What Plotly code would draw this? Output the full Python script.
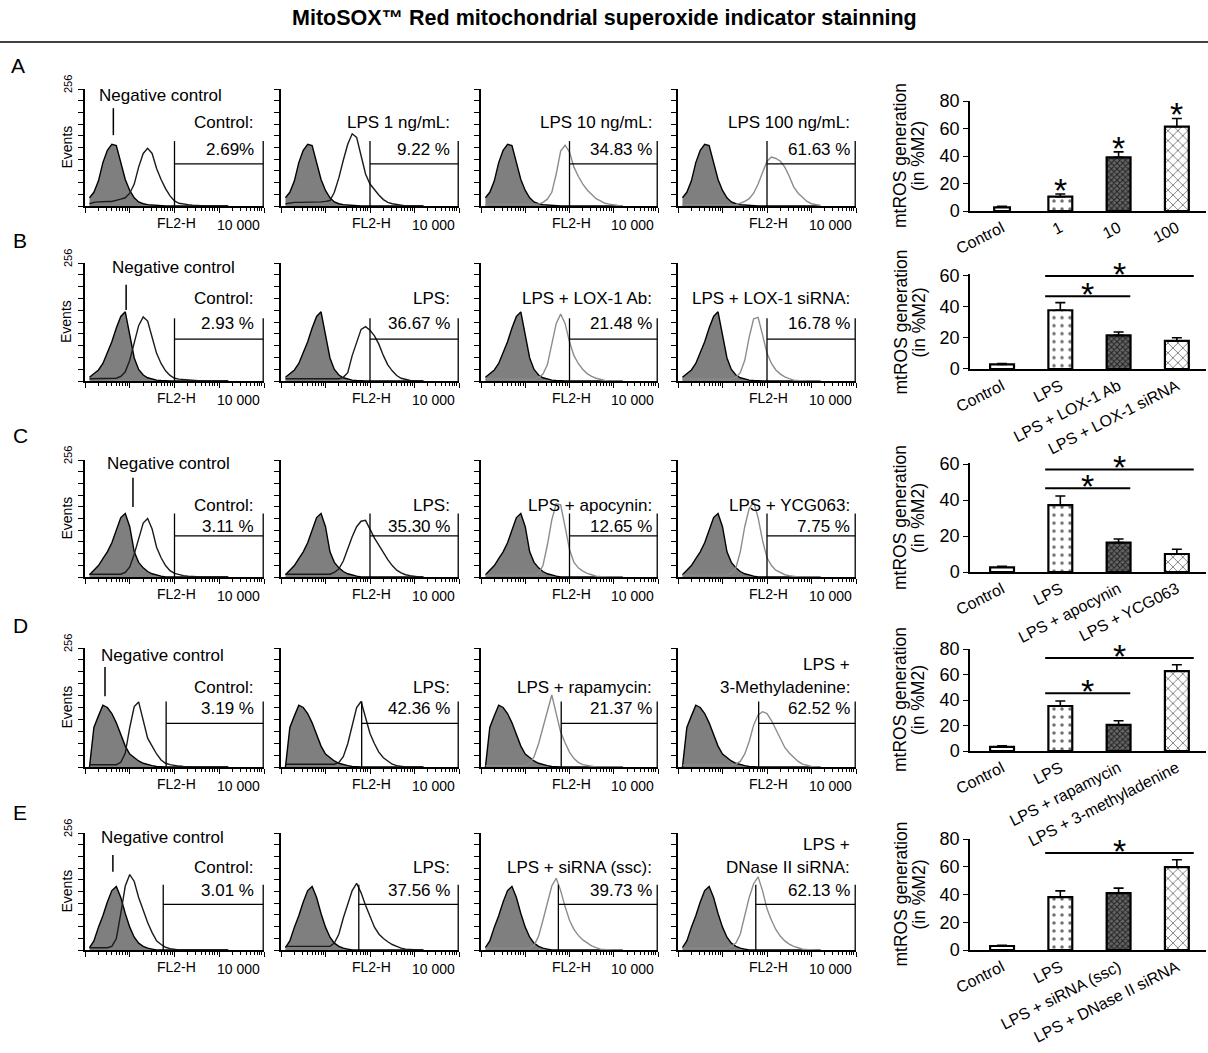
import plotly.graph_objects as go

W, H = 1208, 1053
FONT = "Liberation Sans, Arial, sans-serif"

# ---------------- DATA ----------------
TITLE = "MitoSOX™ Red mitochondrial superoxide indicator stainning"

# FL2-H channel values (log scale bins)
FL2_H = [1.26, 1.58, 2.0, 2.51, 3.16, 3.98, 5.01, 6.31, 7.94, 10, 12.6, 15.8, 20.0, 25.1,
         31.6, 39.8, 50.1, 63.1, 79.4, 100, 126, 158, 200, 251, 316, 398, 501, 631, 794,
         1000, 1259, 1585]

# Row A histograms (events)
NEG_A = [18, 30, 55, 95, 122, 135, 132, 95, 58, 34, 18, 9, 5, 3, 2, 1, 0, 0, 0, 0, 0, 0, 0, 0, 0, 0, 0, 0, 0, 0, 0, 0]
S_A1 = [5, 8, 9, 10, 10, 10, 12, 15, 18, 28, 48, 85, 115, 126, 115, 82, 58, 38, 22, 11, 6, 4, 3, 2, 1, 0, 0, 0, 0, 0, 0, 0]
S_A2 = [5, 7, 8, 8, 8, 8, 8, 8, 9, 10, 12, 30, 62, 100, 135, 158, 150, 110, 70, 48, 35, 24, 14, 8, 5, 3, 1, 0, 0, 0, 0, 0]
S_A3 = [3, 4, 4, 4, 4, 4, 4, 4, 4, 4, 4, 4, 4, 8, 15, 30, 70, 120, 133, 118, 85, 65, 48, 35, 25, 16, 11, 6, 4, 2, 1, 0]
S_A4 = [3, 3, 3, 3, 3, 3, 3, 3, 3, 3, 3, 3, 3, 6, 10, 16, 28, 48, 75, 98, 107, 104, 98, 85, 65, 42, 28, 18, 10, 5, 3, 1]

# Row B histograms
NEG_B = [8, 15, 24, 38, 60, 85, 115, 140, 150, 100, 50, 25, 13, 7, 4, 2, 1, 0, 0, 0, 0, 0, 0, 0, 0, 0, 0, 0, 0, 0, 0, 0]
S_B1 = [5, 5, 5, 5, 5, 5, 6, 10, 20, 45, 80, 120, 139, 130, 95, 60, 38, 22, 12, 6, 4, 3, 2, 1, 0, 0, 0, 0, 0, 0, 0, 0]
S_B2 = [5, 5, 5, 5, 5, 5, 5, 5, 5, 5, 5, 5, 5, 8, 18, 55, 85, 112, 118, 110, 98, 80, 55, 35, 22, 12, 6, 3, 1, 0, 0, 0]
S_B3 = [4, 4, 4, 4, 4, 4, 4, 4, 4, 4, 4, 4, 8, 15, 35, 80, 125, 145, 125, 85, 55, 38, 25, 16, 10, 6, 3, 1, 0, 0, 0, 0]
S_B4 = [4, 4, 4, 4, 4, 4, 4, 4, 4, 4, 4, 4, 8, 18, 45, 95, 135, 138, 100, 60, 38, 24, 15, 9, 5, 2, 1, 0, 0, 0, 0, 0]

# Row C histograms
NEG_C = [5, 15, 25, 40, 55, 75, 105, 130, 139, 110, 55, 32, 20, 12, 7, 4, 2, 0, 0, 0, 0, 0, 0, 0, 0, 0, 0, 0, 0, 0, 0, 0]
S_C1 = [6, 6, 6, 6, 6, 6, 6, 6, 10, 22, 50, 85, 118, 128, 105, 65, 42, 25, 14, 8, 5, 3, 2, 1, 0, 0, 0, 0, 0, 0, 0, 0]
S_C2 = [6, 6, 6, 6, 6, 6, 6, 6, 6, 6, 6, 10, 18, 35, 62, 88, 110, 122, 124, 105, 85, 70, 52, 38, 25, 15, 9, 5, 3, 1, 0, 0]
S_C3 = [4, 4, 4, 4, 4, 4, 4, 4, 4, 4, 4, 4, 8, 25, 70, 125, 160, 158, 110, 60, 32, 20, 13, 8, 5, 2, 1, 0, 0, 0, 0, 0]
S_C4 = [4, 4, 4, 4, 4, 4, 4, 4, 4, 4, 4, 8, 20, 55, 110, 150, 163, 130, 80, 42, 25, 15, 9, 5, 3, 1, 0, 0, 0, 0, 0, 0]

# Row D histograms
NEG_D = [0, 85, 110, 133, 128, 115, 95, 72, 45, 28, 20, 13, 8, 5, 3, 1, 0, 0, 0, 0, 0, 0, 0, 0, 0, 0, 0, 0, 0, 0, 0, 0]
S_D1 = [5, 5, 5, 5, 5, 5, 5, 10, 30, 85, 130, 140, 100, 62, 45, 28, 15, 8, 5, 3, 2, 1, 0, 0, 0, 0, 0, 0, 0, 0, 0, 0]
S_D2 = [6, 6, 6, 6, 6, 6, 6, 6, 6, 6, 6, 6, 10, 22, 50, 90, 128, 141, 105, 72, 50, 32, 20, 12, 6, 3, 1, 0, 0, 0, 0, 0]
S_D3 = [3, 3, 3, 3, 3, 3, 3, 3, 3, 3, 8, 22, 50, 85, 125, 155, 115, 75, 52, 32, 18, 10, 5, 3, 1, 0, 0, 0, 0, 0, 0, 0]
S_D4 = [4, 4, 4, 4, 4, 4, 4, 4, 4, 4, 4, 4, 6, 12, 28, 55, 90, 112, 119, 115, 100, 80, 60, 42, 30, 20, 12, 6, 3, 1, 0, 0]

# Row E histograms
NEG_E = [5, 20, 50, 75, 105, 130, 139, 115, 80, 50, 28, 15, 8, 4, 2, 0, 0, 0, 0, 0, 0, 0, 0, 0, 0, 0, 0, 0, 0, 0, 0, 0]
S_E1 = [5, 5, 5, 5, 5, 8, 25, 80, 140, 165, 150, 115, 85, 60, 38, 20, 12, 6, 3, 1, 0, 0, 0, 0, 0, 0, 0, 0, 0, 0, 0, 0]
S_E2 = [8, 8, 8, 8, 8, 8, 8, 8, 8, 8, 8, 15, 35, 70, 100, 130, 146, 125, 98, 72, 50, 35, 25, 18, 12, 8, 4, 2, 1, 0, 0, 0]
S_E3 = [4, 4, 4, 4, 4, 4, 4, 4, 4, 4, 4, 10, 30, 65, 105, 140, 157, 130, 95, 65, 45, 32, 22, 15, 9, 5, 2, 1, 0, 0, 0, 0]
S_E4 = [4, 4, 4, 4, 4, 4, 4, 4, 4, 4, 4, 8, 15, 35, 75, 115, 145, 160, 130, 90, 65, 45, 30, 20, 13, 8, 5, 2, 1, 0, 0, 0]

# M2 gate (FL2-H) per row, and upper bound
GATES = {"A": 100, "B": 100, "C": 100, "D": 65, "E": 56}
GATE_HI = 9600
# Negative-control peak marker (FL2-H)
NEG_MARK = {"A": 4.3, "B": 8.3, "C": 11.8, "D": 2.8, "E": 4.2}

HIST_LABELS_A = ["Control:", "LPS 1 ng/mL:", "LPS 10 ng/mL:", "LPS 100 ng/mL:"]
HIST_PCT_A = ["2.69%", "9.22 %", "34.83 %", "61.63 %"]
HIST_LABELS_B = ["Control:", "LPS:", "LPS + LOX-1 Ab:", "LPS + LOX-1 siRNA:"]
HIST_PCT_B = ["2.93 %", "36.67 %", "21.48 %", "16.78 %"]
HIST_LABELS_C = ["Control:", "LPS:", "LPS + apocynin:", "LPS + YCG063:"]
HIST_PCT_C = ["3.11 %", "35.30 %", "12.65 %", "7.75 %"]
HIST_LABELS_D = ["Control:", "LPS:", "LPS + rapamycin:", "LPS +\n3-Methyladenine:"]
HIST_PCT_D = ["3.19 %", "42.36 %", "21.37 %", "62.52 %"]
HIST_LABELS_E = ["Control:", "LPS:", "LPS + siRNA (ssc):", "LPS +\nDNase II siRNA:"]
HIST_PCT_E = ["3.01 %", "37.56 %", "39.73 %", "62.13 %"]

# Bar charts: mtROS generation (in %M2)
BAR_CATS_A = ["Control", "1", "10", "100"]
BAR_VALUES_A = [2.7, 10.4, 39, 61.3]
BAR_ERR_A = [0.8, 2, 4, 6]
STARS_A = [1, 2, 3]
Y_TICKS_A = [0, 20, 40, 60, 80]

BAR_CATS_B = ["Control", "LPS", "LPS + LOX-1 Ab", "LPS + LOX-1 siRNA"]
BAR_VALUES_B = [3, 37.9, 21.7, 18.1]
BAR_ERR_B = [0.5, 4.9, 2.2, 2.1]
SIG_B = [(1, 2, 47), (1, 3, 60)]
Y_TICKS_B = [0, 20, 40, 60]

BAR_CATS_C = ["Control", "LPS", "LPS + apocynin", "LPS + YCG063"]
BAR_VALUES_C = [2.6, 37.2, 16.3, 10]
BAR_ERR_C = [0.6, 5, 2, 2.6]
SIG_C = [(1, 2, 46.5), (1, 3, 57)]
Y_TICKS_C = [0, 20, 40, 60]

BAR_CATS_D = ["Control", "LPS", "LPS + rapamycin", "LPS + 3-methyladenine"]
BAR_VALUES_D = [3.2, 35.3, 20.5, 62.6]
BAR_ERR_D = [0.8, 3.9, 3.2, 5]
SIG_D = [(1, 2, 45.3), (1, 3, 72.9)]
Y_TICKS_D = [0, 20, 40, 60, 80]

BAR_CATS_E = ["Control", "LPS", "LPS + siRNA (ssc)", "LPS + DNase II siRNA"]
BAR_VALUES_E = [2.9, 38.1, 41, 59.7]
BAR_ERR_E = [0.4, 4.5, 3.6, 5.3]
SIG_E = [(1, 3, 69.9)]
Y_TICKS_E = [0, 20, 40, 60, 80]

Y_TITLE_1 = "mtROS generation"
Y_TITLE_2 = "(in %M2)"

ROWS = {
    "A": dict(neg=NEG_A, samples=[S_A1, S_A2, S_A3, S_A4], labels=HIST_LABELS_A, pcts=HIST_PCT_A,
              cats=BAR_CATS_A, vals=BAR_VALUES_A, errs=BAR_ERR_A, sig=[], stars=STARS_A, yticks=Y_TICKS_A),
    "B": dict(neg=NEG_B, samples=[S_B1, S_B2, S_B3, S_B4], labels=HIST_LABELS_B, pcts=HIST_PCT_B,
              cats=BAR_CATS_B, vals=BAR_VALUES_B, errs=BAR_ERR_B, sig=SIG_B, stars=[], yticks=Y_TICKS_B),
    "C": dict(neg=NEG_C, samples=[S_C1, S_C2, S_C3, S_C4], labels=HIST_LABELS_C, pcts=HIST_PCT_C,
              cats=BAR_CATS_C, vals=BAR_VALUES_C, errs=BAR_ERR_C, sig=SIG_C, stars=[], yticks=Y_TICKS_C),
    "D": dict(neg=NEG_D, samples=[S_D1, S_D2, S_D3, S_D4], labels=HIST_LABELS_D, pcts=HIST_PCT_D,
              cats=BAR_CATS_D, vals=BAR_VALUES_D, errs=BAR_ERR_D, sig=SIG_D, stars=[], yticks=Y_TICKS_D),
    "E": dict(neg=NEG_E, samples=[S_E1, S_E2, S_E3, S_E4], labels=HIST_LABELS_E, pcts=HIST_PCT_E,
              cats=BAR_CATS_E, vals=BAR_VALUES_E, errs=BAR_ERR_E, sig=SIG_E, stars=[], yticks=Y_TICKS_E),
}

# ---------------- LAYOUT (pixel geometry / style) ----------------
HIST_X = [(85, 264), (281, 459), (481, 658), (678, 856)]
LABEL_X = [0.955, 0.96, 0.975, 0.975]
GEOM = {
    "A": dict(top=89, base=206, letter=(18, 66), lab_y=122, pct_y=149, neg=(97, 95), mark=(155, 214), gv=142, gh=92,
              bar_zero=211, bar_tick=101, bar_tickval=80, bar_max=80),
    "B": dict(top=263, base=381, letter=(20, 240), lab_y=298, pct_y=323, neg=(110, 268), mark=(154, 209), gv=136, gh=91,
              bar_zero=369, bar_tick=276, bar_tickval=60, bar_max=61.5),
    "C": dict(top=460, base=577, letter=(20, 436), lab_y=505, pct_y=526, neg=(105, 463), mark=(153, 217), gv=139, gh=90,
              bar_zero=572, bar_tick=464, bar_tickval=60, bar_max=60.5),
    "D": dict(top=648, base=767, letter=(20, 625), lab_y=687, pct_y=708, neg=(99, 655), mark=(152, 215), gv=141, gh=94,
              bar_zero=751, bar_tick=649, bar_tickval=80, bar_max=80),
    "E": dict(top=833, base=950, letter=(20, 812), lab_y=867, pct_y=890, neg=(99, 837), mark=(171, 208), gv=143, gh=100,
              bar_zero=950, bar_tick=839, bar_tickval=80, bar_max=80),
}
BAR_X = (970, 1206)
MINOR = [m * d for d in (1, 10, 100, 1000) for m in range(2, 10)]

PATTERN = dict(
    shape=["", ".", "x", "x"],
    fgcolor=["black", "#707070", "#222222", "#5a5a5a"],
    bgcolor=["white", "white", "#666666", "white"],
    size=[6, 8, 4, 7],
    solidity=[0.2, 0.15, 0.45, 0.2],
    fillmode="replace",
)


def px_x(p):
    return p / W


def px_y(p):
    return 1 - p / H


fig = go.Figure()
axes = {}
annotations = []
shapes = []


def ann(text, x, y, xref="paper", yref="paper", size=16, xanchor="center", yanchor="middle",
        angle=0, yshift=0):
    annotations.append(dict(text=text, x=x, y=y, xref=xref, yref=yref, showarrow=False,
                            font=dict(family=FONT, size=size, color="black"),
                            xanchor=xanchor, yanchor=yanchor, textangle=angle, yshift=yshift))


n = 0
for key, row in ROWS.items():
    g = GEOM[key]
    ann(key, px_x(g["letter"][0]), px_y(g["letter"][1]), size=21)
    # ---- histograms ----
    for p in range(4):
        n += 1
        xs = "" if n == 1 else str(n)
        x0, x1 = HIST_X[p]
        axes["xaxis" + xs] = dict(domain=[px_x(x0), px_x(x1)], anchor="y" + xs, type="log", range=[0, 4],
                                  showline=True, linecolor="black", linewidth=1.5, ticks="outside", ticklen=5,
                                  tickwidth=1.2, tickcolor="black", tickvals=[1, 10, 100, 1000, 10000],
                                  showticklabels=False, showgrid=False, zeroline=False, automargin=False,
                                  minor=dict(ticks="outside", ticklen=3, tickwidth=1, tickcolor="black",
                                             tickmode="array", tickvals=MINOR, showgrid=False))
        axes["yaxis" + xs] = dict(domain=[px_y(g["base"]), px_y(g["top"])], anchor="x" + xs, range=[0, 256],
                                  showline=True, linecolor="black", linewidth=1.5, ticks="outside", ticklen=5,
                                  tickwidth=1.2, tickcolor="black", tickvals=[25.6 * i for i in range(11)],
                                  showticklabels=False, showgrid=False, zeroline=False, automargin=False)
        xa, ya = "x" + xs, "y" + xs
        fig.add_trace(go.Scatter(x=FL2_H, y=row["neg"], mode="lines", fill="tozeroy", fillcolor="#7f7f7f",
                                 line=dict(color="black", width=1.4), xaxis=xa, yaxis=ya, hoverinfo="skip"))
        col = "#1a1a1a" if p < 2 else "#8c8c8c"
        fig.add_trace(go.Scatter(x=FL2_H, y=row["samples"][p], mode="lines",
                                 line=dict(color=col, width=1.4), xaxis=xa, yaxis=ya, hoverinfo="skip"))
        gt = GATES[key]
        fig.add_trace(go.Scatter(x=[gt, gt, None, gt, GATE_HI, None, GATE_HI, GATE_HI],
                                 y=[0, g["gv"], None, g["gh"], g["gh"], None, 0, g["gv"]], mode="lines",
                                 line=dict(color="black", width=1.3), xaxis=xa, yaxis=ya, hoverinfo="skip"))
        # labels
        lines = row["labels"][p].split("\n")
        for i, t in enumerate(reversed(lines)):
            ann(t, LABEL_X[p], px_y(g["lab_y"] - 23 * i), xref=xa + " domain", xanchor="right", size=17)
        ann(row["pcts"][p], LABEL_X[p], px_y(g["pct_y"]), xref=xa + " domain", xanchor="right", size=17)
        ann("FL2-H", 0.51, px_y(g["base"] + 17), xref=xa + " domain", size=14)
        ann("10 000", 0.99, px_y(g["base"] + 19), xref=xa + " domain", xanchor="right", size=14)
        if p == 0:
            ann("Negative control", px_x(g["neg"][0]), px_y(g["neg"][1]), xanchor="left", size=17)
            ann("256", px_x(68), px_y(g["top"] - 5), size=11, angle=-90)
            ann("Events", px_x(66), px_y((g["top"] + g["base"]) / 2), size=14, angle=-90)
            m = NEG_MARK[key]
            fig.add_trace(go.Scatter(x=[m, m], y=list(g["mark"]), mode="lines",
                                     line=dict(color="black", width=1.5), xaxis=xa, yaxis=ya, hoverinfo="skip"))
    # ---- bar chart ----
    n += 1
    xs = str(n)
    zero, tpx, tval, rmax = g["bar_zero"], g["bar_tick"], g["bar_tickval"], g["bar_max"]
    top_px = zero - (zero - tpx) * rmax / tval
    cats = row["cats"]
    idx = list(range(len(cats)))
    axes["xaxis" + xs] = dict(domain=[px_x(BAR_X[0]), px_x(BAR_X[1])], anchor="y" + xs, range=[-0.55, 3.5],
                              showline=True, linecolor="black", linewidth=1.5, tickvals=idx, ticktext=cats,
                              tickangle=-27, ticks="", tickfont=dict(family=FONT, size=16, color="black"),
                              ticklabelstandoff=0,
                              showgrid=False, zeroline=False, automargin=False)
    axes["yaxis" + xs] = dict(domain=[px_y(zero), px_y(top_px)], anchor="x" + xs, range=[0, rmax],
                              showline=True, linecolor="black", linewidth=1.5, ticks="outside", ticklen=5,
                              tickwidth=1.2, tickcolor="black", tickvals=row["yticks"],
                              tickfont=dict(family=FONT, size=18, color="black"),
                              showgrid=False, zeroline=False, automargin=False)
    xa, ya = "x" + xs, "y" + xs
    widths = [0.27 if (key == "A" and i == 0) else 0.41 for i in idx]
    fig.add_trace(go.Bar(x=idx, y=row["vals"], width=widths, xaxis=xa, yaxis=ya,
                         marker=dict(color="white", line=dict(color="black", width=2.2), pattern=PATTERN),
                         error_y=dict(type="data", symmetric=False, array=row["errs"],
                                      arrayminus=[0] * len(idx), color="black", thickness=1.6, width=5),
                         hoverinfo="skip"))
    for s in row["stars"]:
        ann("*", s, row["vals"][s] + row["errs"][s], xref=xa, yref=ya, size=34, yshift=4)
    for (i0, i1, h) in row["sig"]:
        right = 0.29 if i1 == 3 else 0.2
        fig.add_trace(go.Scatter(x=[i0 - 0.26, i1 + right], y=[h, h], mode="lines",
                                 line=dict(color="black", width=2), xaxis=xa, yaxis=ya, hoverinfo="skip"))
        ann("*", (i0 - 0.26 + i1 + right) / 2, h, xref=xa, yref=ya, size=34, yshift=2)
    ymid = (zero + tpx) / 2
    ann(Y_TITLE_1, px_x(900), px_y(ymid), size=17.5, angle=-90)
    ann(Y_TITLE_2, px_x(918), px_y(ymid), size=17.5, angle=-90)

ann("<b>" + TITLE + "</b>", 0.5, px_y(18), size=21.5)
shapes.append(dict(type="line", xref="paper", yref="paper", x0=0, x1=1, y0=px_y(42), y1=px_y(42),
                   line=dict(color="black", width=1.5)))

fig.update_layout(template="none", width=W, height=H, margin=dict(l=0, r=0, t=0, b=0),
                  paper_bgcolor="white", plot_bgcolor="white", showlegend=False,
                  annotations=annotations, shapes=shapes, **axes)
fig.write_html("out.html", config={"displayModeBar": False},
               post_script="document.body.style.margin='0px';document.body.style.overflow='hidden';")
